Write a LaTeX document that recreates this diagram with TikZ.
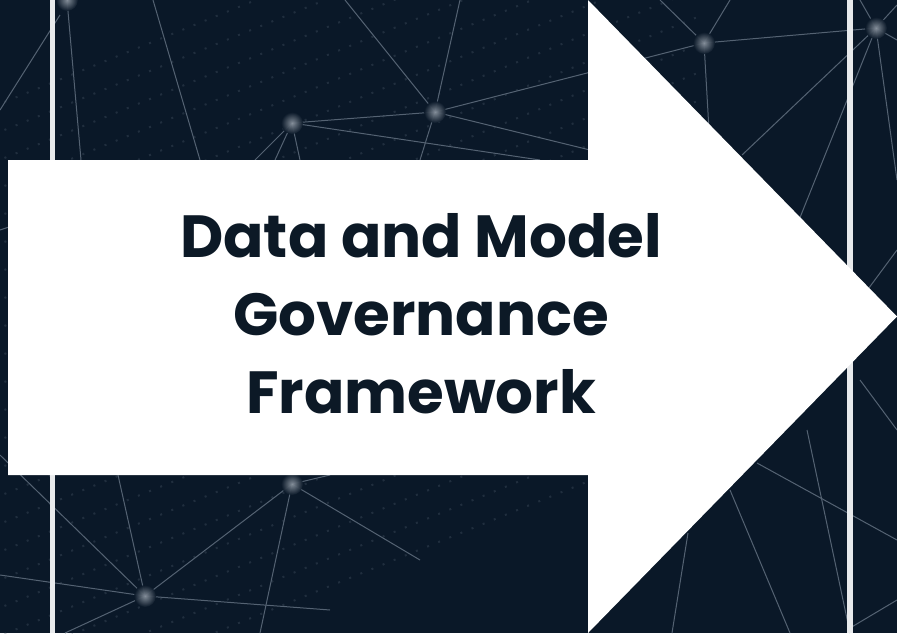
\documentclass[tikz,border=0pt]{standalone}
\usepackage{fontspec}
\newfontfamily\titlefont{Poppins}
\definecolor{bg}{RGB}{10,24,40}
\definecolor{netline}{RGB}{84,98,114}
\definecolor{ink}{RGB}{12,25,38}
\definecolor{rule}{RGB}{232,234,236}
\tikzset{
  net/.style={draw=netline, line width=1pt},
  dotrow/.style={draw=netline, line width=2pt, dash pattern=on 2pt off 10pt, opacity=0.3},
  vrule/.style={fill=rule},
  bigarrow/.style={fill=white},
  title/.style={font=\titlefont\bfseries\fontsize{59.5}{78}\selectfont, text=ink, align=center}
}
\newcommand\hub[1]{\shade[inner color=netline!70!white, outer color=bg, opacity=0.95] #1 circle (11pt);}
\begin{document}
\begin{tikzpicture}[x=1pt,y=-1pt]
\useasboundingbox (0,0) rectangle (897,633);
\fill[bg] (0,0) rectangle (897,633);
% faint dotted diagonal texture
\foreach \k in {0,...,22}{
  \draw[dotrow] (-40,{120+28*\k}) -- (700,{-180+28*\k});
}
% network lines
\coordinate (n1) at (67,0);
\coordinate (n2) at (292,123);
\coordinate (n3) at (435,112);
\coordinate (n4) at (704,43);
\coordinate (n5) at (876,28);
\coordinate (n6) at (145,596);
\coordinate (n7) at (292,484);
\draw[net] (n1) -- (81,160);
\draw[net] (0,110) -- (60,15);
\draw[net] (153,0) -- (200,160);
\draw[net] (n2) -- (n3);
\draw[net] (n2) -- (255,160);
\draw[net] (n2) -- (275,160);
\draw[net] (n2) -- (300,160);
\draw[net] (n2) -- (540,160);
\draw[net] (n3) -- (345,0);
\draw[net] (n3) -- (460,0);
\draw[net] (n3) -- (420,160);
\draw[net] (n3) -- (n4);
\draw[net] (n3) -- (590,150);
\draw[net] (0,230) -- (60,210);
\draw[net] (n4) -- (660,0);
\draw[net] (n4) -- (730,0);
\draw[net] (n4) -- (n5);
\draw[net] (n4) -- (709,130);
\draw[net] (n5) -- (897,5);
\draw[net] (n5) -- (897,40);
\draw[net] (n5) -- (860,0);
\draw[net] (n5) -- (742,155);
\draw[net] (n5) -- (797,225);
\draw[net] (n5) -- (897,180);
\draw[net] (897,250) -- (860,300);
\draw[net] (0,575) -- (n6);
\draw[net] (0,455) -- (n6);
\draw[net] (118,475) -- (n6);
\draw[net] (n6) -- (n7);
\draw[net] (n6) -- (330,610);
\draw[net] (n6) -- (65,633);
\draw[net] (n7) -- (260,633);
\draw[net] (n7) -- (420,560);
\draw[net] (n7) -- (330,475);
\draw[net] (757,463) -- (897,540);
\draw[net] (807,430) -- (850,633);
\draw[net] (730,490) -- (790,633);
\draw[net] (688,533) -- (672,633);
\draw[net] (897,600) -- (850,628);
\draw[net] (860,380) -- (897,430);
\hub{(n1)} \hub{(n2)} \hub{(n3)} \hub{(n4)} \hub{(n5)} \hub{(n6)} \hub{(n7)}
% vertical rules
\fill[vrule] (49.5,0) rectangle (55,633);
\fill[vrule] (847,0) rectangle (852.5,633);
% big arrow
\fill[bigarrow] (8,160) -- (588,160) -- (588,0) -- (897,316.5) -- (588,633) -- (588,475) -- (8,475) -- cycle;
\node[title] (title) at (421,314) {Data and Model\\Governance\\Framework};
\end{tikzpicture}
\end{document}
